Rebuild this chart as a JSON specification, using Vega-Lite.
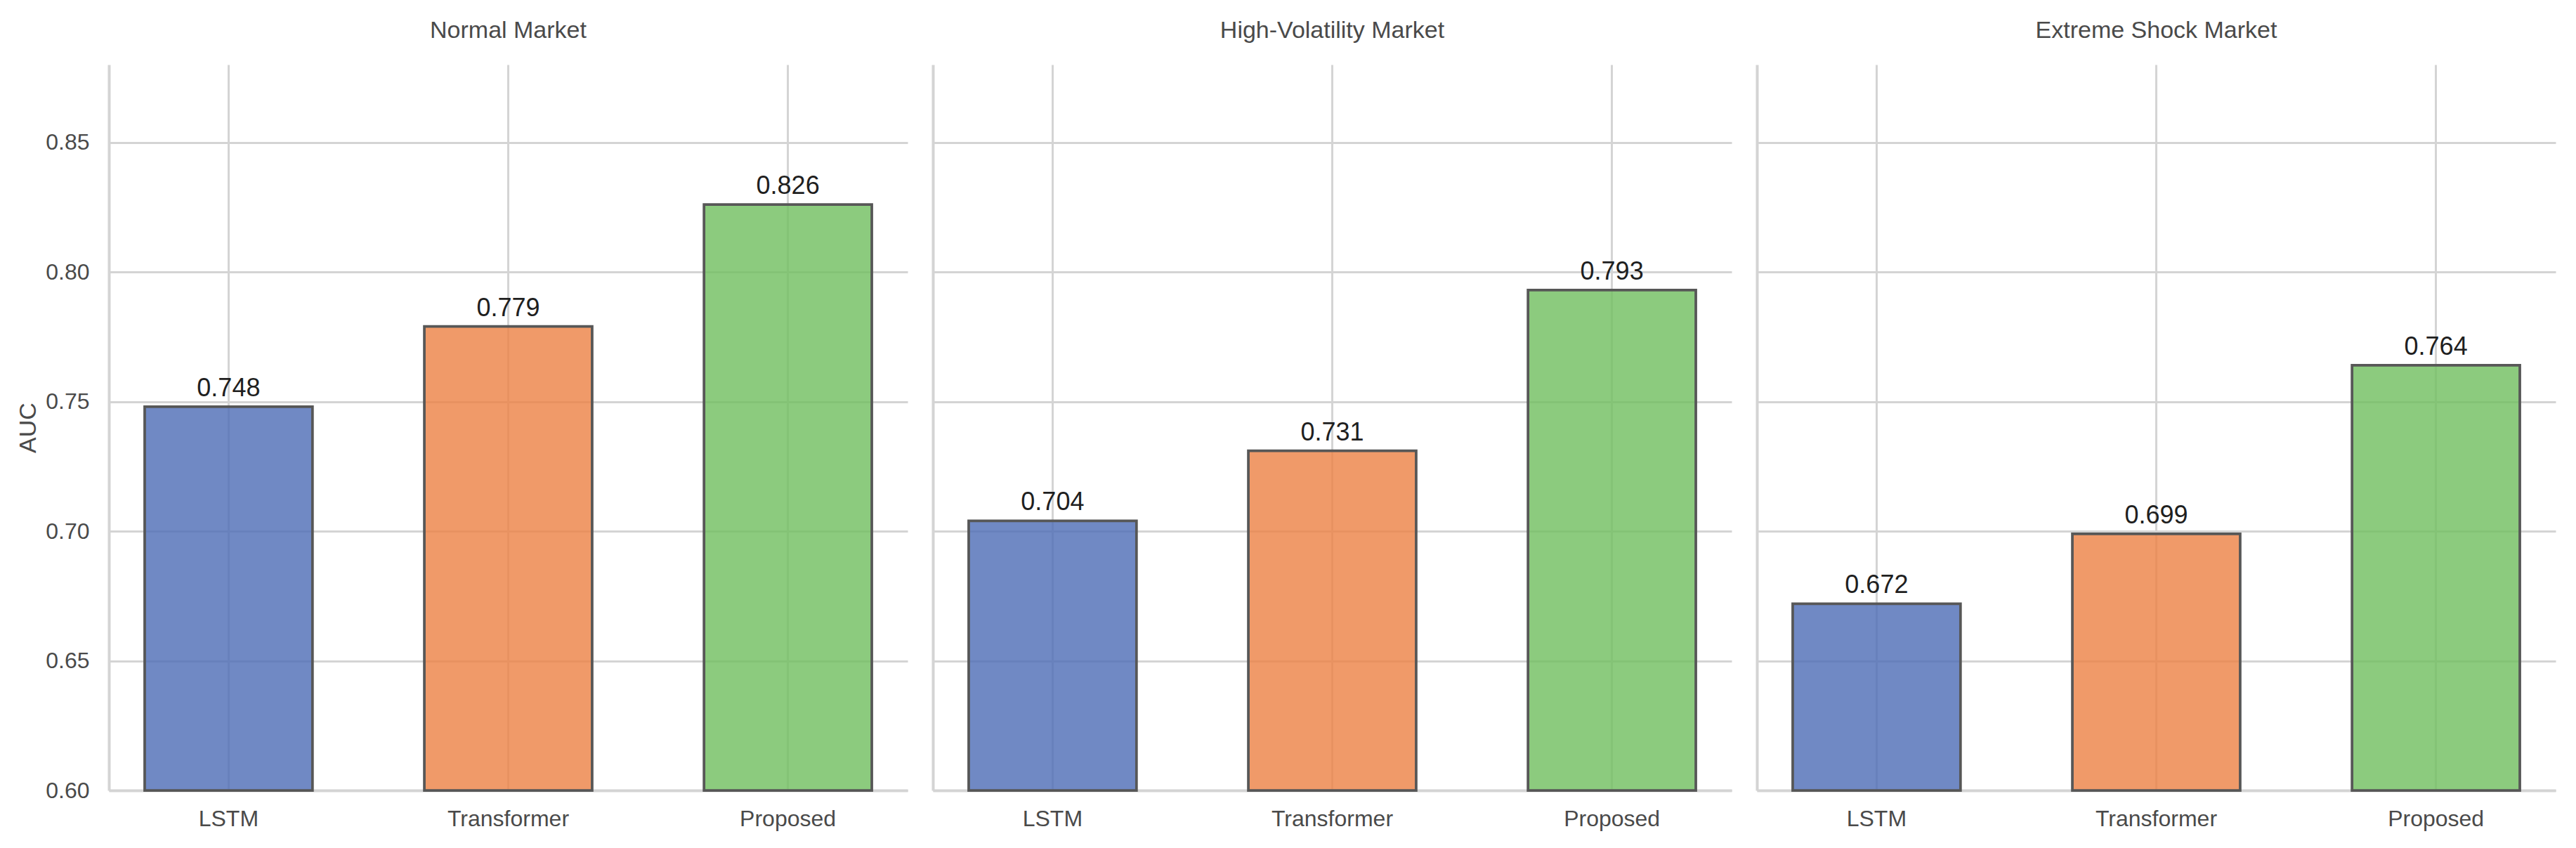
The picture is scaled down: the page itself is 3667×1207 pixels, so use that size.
{
  "$schema": "https://vega.github.io/schema/vega-lite/v6.json",
  "autosize": {"type": "pad"},
  "padding": {"left": 23, "top": 27, "right": 29, "bottom": 25},
  "background": "white",
  "data": {
    "values": [
      {"market": "Normal Market", "model": "LSTM", "auc": 0.748},
      {"market": "Normal Market", "model": "Transformer", "auc": 0.779},
      {"market": "Normal Market", "model": "Proposed", "auc": 0.826},
      {"market": "High-Volatility Market", "model": "LSTM", "auc": 0.704},
      {"market": "High-Volatility Market", "model": "Transformer", "auc": 0.731},
      {"market": "High-Volatility Market", "model": "Proposed", "auc": 0.793},
      {"market": "Extreme Shock Market", "model": "LSTM", "auc": 0.672},
      {"market": "Extreme Shock Market", "model": "Transformer", "auc": 0.699},
      {"market": "Extreme Shock Market", "model": "Proposed", "auc": 0.764}
    ]
  },
  "spacing": 36,
  "bounds": "flush",
  "hconcat": [
    {
      "width": 1137, "height": 1033,
      "title": {"text": "Normal Market"},
      "transform": [{"filter": "datum.market === 'Normal Market'"}],
      "encoding": {
        "x": {"field": "model", "type": "nominal", "sort": ["LSTM", "Transformer", "Proposed"],
              "scale": {"paddingInner": 0.4, "paddingOuter": 0.128}, "title": null},
        "y": {"field": "auc", "type": "quantitative", "scale": {"domain": [0.6, 0.88], "nice": false, "zero": false},
              "title": "AUC", "axis": {"values": [0.6, 0.65, 0.7, 0.75, 0.8, 0.85], "format": ".2f"}}
      },
      "layer": [
        {"mark": {"type": "bar", "fillOpacity": 0.8, "stroke": "#575757", "strokeWidth": 3.75},
         "encoding": {"y2": {"datum": 0.6}, "color": {"field": "model", "type": "nominal", "legend": null,
           "scale": {"domain": ["LSTM", "Transformer", "Proposed"], "range": ["#4c6bb5", "#ec8143", "#6fbe5e"]}}}},
        {"mark": {"type": "text", "baseline": "alphabetic", "dy": -15, "fontSize": 36, "font": "Liberation Sans", "color": "#1f1f1f"},
         "encoding": {"text": {"field": "auc", "type": "quantitative", "format": ".3f"}}}
      ]
    },
    {
      "width": 1137, "height": 1033,
      "title": {"text": "High-Volatility Market"},
      "transform": [{"filter": "datum.market === 'High-Volatility Market'"}],
      "encoding": {
        "x": {"field": "model", "type": "nominal", "sort": ["LSTM", "Transformer", "Proposed"],
              "scale": {"paddingInner": 0.4, "paddingOuter": 0.128}, "title": null},
        "y": {"field": "auc", "type": "quantitative", "scale": {"domain": [0.6, 0.88], "nice": false, "zero": false},
              "title": null, "axis": {"values": [0.6, 0.65, 0.7, 0.75, 0.8, 0.85], "labels": false}}
      },
      "layer": [
        {"mark": {"type": "bar", "fillOpacity": 0.8, "stroke": "#575757", "strokeWidth": 3.75},
         "encoding": {"y2": {"datum": 0.6}, "color": {"field": "model", "type": "nominal", "legend": null,
           "scale": {"domain": ["LSTM", "Transformer", "Proposed"], "range": ["#4c6bb5", "#ec8143", "#6fbe5e"]}}}},
        {"mark": {"type": "text", "baseline": "alphabetic", "dy": -15, "fontSize": 36, "font": "Liberation Sans", "color": "#1f1f1f"},
         "encoding": {"text": {"field": "auc", "type": "quantitative", "format": ".3f"}}}
      ]
    },
    {
      "width": 1137, "height": 1033,
      "title": {"text": "Extreme Shock Market"},
      "transform": [{"filter": "datum.market === 'Extreme Shock Market'"}],
      "encoding": {
        "x": {"field": "model", "type": "nominal", "sort": ["LSTM", "Transformer", "Proposed"],
              "scale": {"paddingInner": 0.4, "paddingOuter": 0.128}, "title": null},
        "y": {"field": "auc", "type": "quantitative", "scale": {"domain": [0.6, 0.88], "nice": false, "zero": false},
              "title": null, "axis": {"values": [0.6, 0.65, 0.7, 0.75, 0.8, 0.85], "labels": false}}
      },
      "layer": [
        {"mark": {"type": "bar", "fillOpacity": 0.8, "stroke": "#575757", "strokeWidth": 3.75},
         "encoding": {"y2": {"datum": 0.6}, "color": {"field": "model", "type": "nominal", "legend": null,
           "scale": {"domain": ["LSTM", "Transformer", "Proposed"], "range": ["#4c6bb5", "#ec8143", "#6fbe5e"]}}}},
        {"mark": {"type": "text", "baseline": "alphabetic", "dy": -15, "fontSize": 36, "font": "Liberation Sans", "color": "#1f1f1f"},
         "encoding": {"text": {"field": "auc", "type": "quantitative", "format": ".3f"}}}
      ]
    }
  ],
  "config": {
    "view": {"stroke": null},
    "font": "Liberation Sans",
    "title": {"fontSize": 34, "font": "Liberation Sans", "fontWeight": "normal", "color": "#4a4a4a", "baseline": "alphabetic", "offset": 31, "anchor": "middle"},
    "axis": {
      "grid": true, "gridColor": "#d4d4d4", "gridWidth": 3, "gridOpacity": 1,
      "domain": true, "domainColor": "#d4d4d4", "domainWidth": 4,
      "ticks": false, "tickSize": 0,
      "labelFont": "Liberation Sans", "labelFontSize": 32, "labelColor": "#4a4a4a",
      "titleFont": "Liberation Sans", "titleFontSize": 34, "titleColor": "#4a4a4a", "titleFontWeight": "normal"
    },
    "axisX": {"labelAngle": 0, "labelPadding": 25, "bandPosition": 0.5},
    "axisY": {"labelPadding": 28, "titleX": -105, "titleBaseline": "alphabetic"}
  }
}
